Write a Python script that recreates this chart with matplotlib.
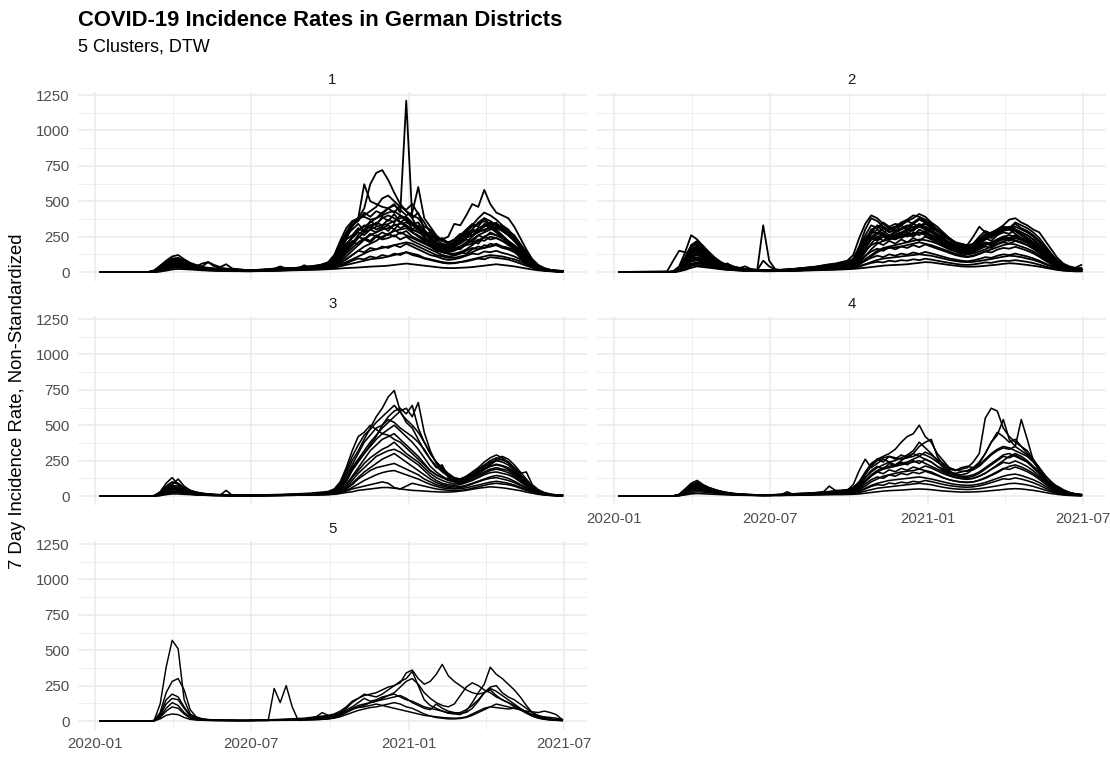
import matplotlib
matplotlib.use("Agg")
import matplotlib.pyplot as plt
import matplotlib.dates as mdates
from matplotlib.ticker import FixedLocator
import pandas as pd

plt.rcParams['font.family'] = ['Liberation Sans', 'DejaVu Sans']

# ---------------- data (weekly readings, 7-day incidence per 100k) ----------------
dates = [pd.Timestamp('2020-01-07')] + list(pd.date_range('2020-03-03', '2021-06-29', freq='7D'))

# Cluster 1
c1_a = [0, 0, 8, 35, 70, 90, 85, 60, 45, 35, 28, 25, 20, 18, 15, 14, 12, 12, 10, 12, 15,
        18, 20, 25, 22, 20, 22, 25, 28, 30, 35, 40, 60, 110, 180, 250, 300, 320, 350, 380, 420,
        450, 480, 420, 1210, 380, 420, 300, 250, 200, 180, 170, 190, 230, 270, 300, 350, 380, 330, 300, 260,
        220, 170, 120, 80, 50, 30, 18, 10, 6, 5]
c1_b = [0, 0, 5, 25, 60, 80, 75, 55, 40, 30, 25, 30, 22, 18, 15, 12, 10, 10, 12, 14, 12,
        15, 18, 20, 18, 22, 25, 30, 28, 35, 40, 50, 80, 150, 230, 320, 380, 450, 620, 700, 720,
        650, 560, 480, 430, 380, 300, 250, 200, 170, 160, 180, 200, 250, 290, 320, 340, 360, 320, 290, 250,
        210, 160, 110, 70, 40, 25, 15, 8, 5, 3]
c1_c = [0, 0, 12, 45, 80, 110, 120, 90, 65, 50, 40, 70, 40, 30, 25, 20, 18, 15, 14, 15, 18,
        20, 25, 30, 28, 25, 30, 35, 40, 45, 50, 55, 70, 100, 150, 200, 260, 300, 330, 340, 380,
        400, 380, 350, 330, 300, 280, 260, 250, 240, 230, 250, 340, 330, 400, 480, 460, 580, 480, 420, 400,
        380, 320, 240, 160, 90, 45, 25, 15, 10, 8]
c1_d = [0, 0, 3, 20, 45, 65, 60, 50, 40, 30, 25, 20, 18, 15, 12, 10, 10, 8, 8, 10, 12,
        14, 15, 18, 20, 22, 25, 28, 32, 38, 45, 60, 110, 200, 280, 350, 380, 620, 500, 480, 460,
        450, 470, 440, 400, 420, 600, 380, 320, 260, 220, 200, 190, 210, 240, 260, 280, 300, 310, 280, 240,
        200, 150, 100, 60, 35, 20, 12, 8, 5, 4]
c1_e = [0, 0, 2, 15, 40, 55, 60, 50, 40, 32, 25, 22, 18, 15, 13, 12, 10, 10, 9, 10, 11,
        12, 14, 16, 18, 20, 22, 25, 30, 35, 40, 45, 60, 90, 140, 190, 240, 280, 300, 320, 330,
        340, 360, 380, 390, 350, 320, 280, 240, 210, 190, 180, 170, 180, 200, 230, 260, 280, 300, 320, 300,
        270, 230, 180, 120, 70, 35, 20, 12, 8, 6]
c1_f = [0, 0, 1, 10, 30, 45, 50, 45, 35, 28, 22, 18, 15, 13, 12, 10, 9, 8, 8, 9, 10,
        11, 12, 14, 16, 18, 20, 22, 25, 28, 30, 35, 45, 65, 90, 120, 150, 180, 200, 220, 250,
        270, 290, 300, 310, 280, 250, 220, 190, 160, 140, 130, 130, 140, 160, 190, 220, 250, 270, 260, 240,
        220, 190, 150, 110, 70, 40, 22, 12, 8, 5]
c1_g = [0, 0, 1, 8, 20, 35, 40, 35, 30, 25, 20, 17, 14, 12, 10, 9, 8, 8, 7, 8, 9,
        10, 11, 12, 14, 16, 18, 20, 22, 25, 28, 30, 38, 50, 70, 90, 110, 130, 150, 160, 170,
        180, 190, 200, 210, 200, 180, 160, 140, 120, 110, 100, 100, 110, 120, 140, 160, 170, 180, 190, 180,
        170, 150, 120, 90, 60, 35, 20, 12, 7, 5]
c1_h = [0, 0, 0, 3, 10, 18, 22, 20, 18, 15, 12, 10, 9, 8, 7, 6, 6, 5, 5, 6, 7,
        8, 9, 10, 11, 12, 13, 14, 15, 16, 18, 20, 22, 25, 28, 30, 32, 35, 38, 40, 42,
        45, 50, 55, 60, 55, 50, 45, 40, 35, 30, 28, 28, 30, 32, 35, 40, 45, 50, 55, 50,
        45, 40, 32, 25, 18, 12, 8, 5, 3, 2]
c1_i = [0, 0, 2, 10, 25, 35, 38, 32, 28, 22, 18, 15, 12, 11, 10, 9, 8, 8, 7, 8, 9,
        10, 12, 13, 15, 16, 18, 20, 22, 24, 26, 28, 32, 40, 50, 60, 70, 80, 90, 95, 100,
        110, 120, 130, 140, 130, 120, 100, 90, 80, 70, 65, 65, 70, 80, 90, 100, 110, 120, 115, 110,
        100, 90, 75, 55, 35, 20, 12, 8, 5, 3]
c1_j = [0, 0, 4, 30, 65, 95, 100, 80, 60, 45, 35, 30, 25, 22, 18, 15, 14, 12, 12, 13, 15,
        17, 20, 22, 25, 28, 30, 33, 38, 42, 48, 55, 90, 160, 250, 330, 380, 400, 430, 460, 520,
        540, 500, 460, 440, 480, 410, 350, 280, 240, 220, 210, 220, 240, 280, 330, 380, 420, 400, 370, 330,
        300, 250, 190, 130, 80, 45, 25, 15, 10, 8]
c1_k = [0, 0, 5, 20, 50, 70, 65, 55, 45, 40, 60, 70, 50, 35, 55, 25, 20, 15, 12, 14, 16,
        18, 22, 40, 25, 22, 25, 48, 30, 32, 35, 38, 50, 75, 110, 150, 190, 230, 260, 280, 300,
        310, 330, 340, 350, 330, 300, 250, 210, 180, 160, 150, 160, 180, 210, 250, 290, 320, 340, 330, 300,
        260, 220, 170, 110, 60, 30, 18, 10, 7, 5]
c1_l = [0, 0, 2, 18, 40, 60, 70, 55, 45, 35, 28, 24, 20, 16, 14, 12, 11, 10, 10, 11, 12,
        13, 15, 17, 19, 22, 25, 28, 32, 40, 55, 70, 120, 220, 310, 360, 380, 390, 370, 380, 400,
        420, 430, 400, 380, 340, 310, 270, 230, 200, 180, 170, 180, 220, 250, 280, 310, 330, 350, 340, 320,
        290, 260, 200, 140, 90, 50, 28, 15, 10, 7]
c1_m = [0,
        0, 3, 22, 55, 80, 70, 62, 48, 38, 30,
        26, 21, 19, 16, 13, 12, 11, 12, 13, 14,
        16, 19, 21, 24, 23, 26, 29, 33, 37, 44,
        52, 85, 170, 260, 300, 340, 290, 360, 330, 390,
        360, 410, 350, 380, 300, 330, 260, 280, 220, 240,
        200, 230, 270, 250, 300, 280, 340, 310, 350, 290,
        260, 230, 160, 120, 70, 40, 22, 12, 8, 6]
c1_n = [0,
        0, 2, 16, 48, 70, 75, 58, 46, 36, 28,
        24, 20, 17, 15, 13, 11, 10, 10, 11, 13,
        15, 17, 19, 21, 24, 27, 31, 35, 40, 48,
        58, 95, 150, 230, 260, 310, 280, 330, 300, 320,
        290, 340, 310, 330, 280, 260, 230, 200, 190, 170,
        160, 180, 200, 230, 210, 260, 240, 280, 260, 240,
        210, 180, 140, 100, 60, 34, 20, 11, 7, 5]
c1_o = [0,
        0, 4, 28, 62, 88, 92, 70, 52, 42, 33,
        28, 23, 19, 17, 14, 13, 12, 11, 12, 14,
        17, 20, 23, 26, 28, 31, 36, 40, 46, 52,
        60, 80, 140, 200, 240, 280, 260, 300, 280, 310,
        330, 300, 350, 320, 290, 300, 240, 220, 200, 170,
        150, 170, 160, 200, 220, 200, 250, 230, 240, 220,
        190, 170, 130, 90, 55, 30, 18, 10, 7, 5]
c1_p = [0,
        0, 1, 12, 35, 52, 58, 48, 40, 32, 25,
        21, 17, 15, 13, 11, 10, 9, 9, 10, 11,
        12, 14, 16, 18, 20, 22, 24, 27, 31, 35,
        40, 55, 85, 130, 170, 210, 240, 220, 260, 240,
        270, 250, 280, 260, 240, 220, 200, 180, 150, 140,
        130, 120, 140, 130, 160, 180, 170, 200, 190, 170,
        160, 140, 110, 80, 50, 28, 16, 9, 6, 4]
c1_q = [0,
        0, 3, 25, 58, 78, 82, 66, 50, 40, 32,
        27, 22, 19, 16, 14, 12, 11, 11, 12, 13,
        15, 18, 21, 23, 26, 29, 33, 37, 42, 50,
        62, 110, 190, 270, 330, 360, 420, 390, 430, 410,
        450, 420, 470, 430, 400, 380, 320, 300, 250, 230,
        210, 230, 260, 300, 340, 320, 380, 360, 330, 310,
        280, 240, 180, 120, 70, 38, 22, 12, 8, 6]
c1_r = [0,
        0, 2, 14, 40, 60, 62, 52, 42, 33, 26,
        22, 18, 16, 14, 12, 11, 10, 9, 10, 12,
        13, 15, 17, 19, 21, 23, 26, 29, 33, 37,
        42, 60, 100, 160, 210, 250, 230, 270, 250, 280,
        260, 300, 270, 290, 250, 230, 210, 180, 170, 150,
        140, 150, 170, 190, 200, 230, 220, 250, 240, 220,
        200, 170, 130, 95, 60, 32, 18, 10, 7, 5]
c1_s = [0,
        0, 1, 6, 18, 28, 32, 28, 24, 20, 16,
        13, 11, 10, 9, 8, 7, 7, 6, 7, 8,
        9, 10, 11, 12, 14, 15, 17, 19, 21, 23,
        26, 32, 45, 60, 80, 95, 90, 110, 100, 120,
        110, 130, 120, 140, 120, 110, 95, 85, 75, 65,
        60, 62, 70, 75, 85, 95, 90, 105, 100, 95,
        88, 75, 60, 45, 30, 18, 11, 7, 4, 3]
c1_t = [0,
        0, 3, 20, 52, 75, 80, 62, 48, 38, 30,
        25, 21, 18, 15, 13, 12, 11, 10, 11, 13,
        15, 17, 20, 22, 25, 28, 32, 36, 41, 46,
        54, 75, 130, 190, 250, 290, 330, 310, 350, 330,
        370, 350, 400, 360, 340, 350, 290, 260, 230, 200,
        190, 210, 240, 270, 260, 300, 290, 330, 310, 290,
        260, 220, 170, 115, 65, 36, 20, 11, 7, 5]
c1_u = [0,
        0, 2, 18, 45, 65, 68, 55, 44, 34, 27,
        23, 19, 17, 15, 13, 12, 11, 10, 11, 12,
        14, 16, 18, 21, 23, 26, 29, 32, 36, 41,
        48, 70, 120, 170, 220, 190, 230, 210, 250, 230,
        240, 260, 230, 250, 220, 200, 180, 160, 140, 120,
        110, 115, 130, 150, 170, 160, 190, 180, 200, 180,
        170, 150, 115, 85, 52, 30, 17, 10, 6, 4]
c1_v = [0,
        0, 1, 9, 26, 40, 44, 38, 32, 26, 21,
        17, 14, 12, 11, 10, 9, 8, 8, 8, 9,
        10, 12, 13, 15, 17, 19, 21, 24, 26, 30,
        34, 45, 62, 90, 120, 150, 140, 170, 160, 180,
        170, 190, 175, 200, 180, 160, 140, 120, 110, 95,
        85, 90, 100, 115, 130, 125, 145, 140, 150, 135,
        125, 110, 90, 65, 42, 24, 14, 8, 5, 4]

# Cluster 2
c2_a = [0, 5, 80, 150, 140, 120, 90, 60, 45, 35, 28, 22, 18, 15, 12, 10, 10, 9, 8, 8, 10,
        12, 15, 20, 25, 28, 30, 32, 35, 40, 45, 50, 70, 110, 180, 250, 280, 260, 240, 230, 250,
        270, 300, 320, 300, 280, 250, 220, 200, 180, 160, 150, 160, 200, 230, 250, 280, 300, 320, 300, 270,
        240, 210, 170, 130, 90, 60, 40, 25, 18, 15]
c2_b = [0, 0, 5, 40, 140, 260, 230, 180, 120, 80, 50, 40, 25, 18, 15, 12, 10, 330, 80, 20, 12,
        10, 12, 15, 18, 20, 22, 25, 28, 32, 38, 45, 65, 120, 200, 280, 330, 310, 290, 280, 300,
        320, 350, 380, 360, 330, 300, 260, 230, 200, 190, 180, 200, 240, 260, 280, 300, 320, 300, 270, 240,
        220, 180, 150, 110, 80, 50, 35, 25, 18, 20]
c2_c = [0, 0, 2, 25, 80, 140, 160, 130, 90, 60, 40, 60, 30, 22, 15, 12, 10, 10, 9, 10, 12,
        14, 16, 20, 22, 25, 30, 35, 42, 50, 55, 60, 90, 180, 300, 380, 360, 320, 300, 310, 340,
        360, 380, 410, 390, 350, 320, 280, 240, 210, 200, 190, 250, 320, 280, 260, 280, 300, 310, 290, 260,
        230, 200, 170, 130, 90, 60, 40, 28, 20, 18]
c2_d = [0, 0, 3, 30, 100, 180, 200, 170, 120, 80, 55, 45, 35, 25, 20, 15, 12, 80, 40, 18, 14,
        12, 14, 18, 20, 22, 25, 28, 32, 35, 40, 45, 55, 80, 140, 200, 250, 260, 240, 250, 270,
        290, 300, 320, 340, 310, 290, 260, 230, 200, 180, 180, 190, 210, 240, 270, 300, 330, 370, 380, 350,
        330, 300, 280, 220, 160, 100, 60, 40, 30, 50]
c2_e = [0, 0, 1, 15, 60, 110, 120, 100, 75, 55, 40, 30, 24, 18, 14, 12, 10, 9, 8, 8, 9,
        10, 12, 14, 16, 18, 20, 22, 25, 28, 32, 36, 45, 70, 110, 160, 200, 220, 230, 240, 250,
        260, 270, 280, 270, 260, 240, 210, 190, 170, 150, 140, 150, 170, 190, 210, 230, 250, 260, 250, 230,
        210, 180, 150, 110, 75, 45, 30, 20, 14, 12]
c2_f = [0, 0, 1, 10, 40, 80, 90, 75, 60, 45, 32, 25, 20, 15, 12, 10, 9, 8, 7, 7, 8,
        9, 10, 12, 14, 16, 18, 20, 22, 24, 28, 30, 38, 55, 80, 110, 140, 160, 170, 175, 180,
        190, 200, 210, 200, 190, 175, 160, 145, 130, 120, 110, 115, 130, 145, 160, 175, 190, 200, 195, 180,
        165, 145, 120, 90, 60, 38, 25, 16, 12, 10]
c2_g = [0, 0, 0, 5, 15, 30, 40, 35, 30, 25, 20, 16, 13, 11, 9, 8, 7, 6, 6, 6, 7,
        8, 9, 10, 11, 12, 13, 14, 15, 16, 18, 20, 22, 26, 30, 35, 40, 45, 48, 50, 52,
        55, 60, 65, 70, 68, 62, 56, 50, 45, 40, 38, 38, 40, 44, 48, 52, 58, 62, 60, 55,
        50, 44, 38, 30, 22, 15, 10, 7, 5, 5]
c2_h = [0, 0, 1, 8, 25, 50, 60, 55, 45, 35, 25, 20, 16, 13, 11, 9, 8, 7, 7, 8, 9,
        10, 11, 13, 15, 17, 19, 21, 23, 25, 27, 30, 34, 42, 55, 70, 85, 95, 100, 105, 110,
        115, 120, 125, 120, 115, 105, 95, 85, 78, 72, 70, 72, 78, 85, 92, 100, 108, 115, 112, 105,
        95, 85, 72, 55, 40, 26, 18, 12, 9, 8]
c2_i = [0, 0, 2, 20, 70, 130, 150, 120, 90, 70, 50, 35, 28, 22, 18, 15, 12, 10, 10, 12, 14,
        16, 20, 25, 30, 35, 40, 48, 55, 60, 70, 80, 120, 240, 340, 400, 380, 340, 310, 320, 350,
        370, 400, 390, 370, 340, 300, 270, 240, 210, 190, 180, 190, 220, 250, 270, 290, 310, 320, 300, 280,
        260, 230, 190, 140, 100, 70, 45, 30, 22, 20]
c2_j = [0, 0, 3, 25, 90, 170, 210, 180, 140, 100, 70, 50, 38, 30, 22, 18, 15, 14, 13, 14, 16,
        18, 22, 26, 30, 32, 38, 44, 50, 55, 60, 65, 80, 140, 220, 300, 320, 290, 260, 280, 310,
        330, 310, 340, 320, 300, 270, 240, 210, 190, 175, 170, 185, 230, 260, 240, 270, 290, 300, 320, 300,
        280, 250, 210, 160, 110, 70, 45, 30, 22, 25]
c2_k = [0, 0, 1, 12, 50, 90, 100, 85, 65, 48, 35, 28, 22, 17, 14, 12, 10, 9, 9, 10, 11,
        12, 14, 16, 18, 20, 23, 26, 29, 32, 35, 38, 45, 60, 90, 120, 150, 170, 180, 190, 200,
        210, 220, 230, 225, 215, 200, 180, 160, 145, 130, 125, 130, 145, 160, 180, 200, 215, 230, 225, 210,
        190, 165, 135, 100, 70, 45, 30, 20, 15, 12]
c2_l = [0, 0, 2, 18, 70, 150, 190, 160, 110, 70, 45, 60, 40, 28, 40, 20, 15, 12, 10, 10, 12,
        14, 16, 18, 20, 24, 28, 32, 36, 40, 45, 50, 60, 100, 160, 230, 270, 270, 250, 260, 280,
        300, 320, 330, 310, 290, 260, 230, 210, 190, 180, 170, 180, 200, 230, 260, 290, 300, 310, 290, 260,
        240, 210, 175, 130, 90, 55, 35, 25, 18, 15]
c2_m = [0,
        0, 3, 28, 95, 165, 175, 140, 100, 70, 48,
        36, 28, 22, 18, 15, 13, 12, 12, 13, 15,
        17, 20, 24, 28, 31, 35, 40, 46, 52, 58,
        64, 85, 150, 240, 290, 270, 310, 280, 300, 270,
        310, 290, 330, 300, 280, 260, 230, 210, 190, 170,
        160, 175, 210, 240, 220, 260, 280, 270, 300, 280,
        260, 230, 190, 150, 105, 65, 42, 28, 20, 22]
c2_n = [0,
        0, 2, 18, 65, 120, 130, 110, 80, 58, 42,
        32, 25, 20, 16, 13, 11, 10, 10, 11, 13,
        15, 17, 20, 23, 26, 29, 33, 38, 43, 48,
        54, 70, 120, 190, 230, 250, 220, 260, 240, 270,
        250, 280, 260, 290, 260, 240, 210, 190, 170, 155,
        150, 165, 190, 210, 200, 230, 250, 240, 260, 240,
        220, 190, 160, 120, 85, 52, 34, 22, 16, 15]
c2_o = [0,
        0, 1, 14, 55, 100, 105, 90, 68, 50, 36,
        28, 22, 18, 15, 12, 10, 9, 9, 10, 11,
        13, 15, 17, 20, 22, 25, 28, 32, 36, 40,
        45, 58, 95, 150, 190, 210, 190, 220, 200, 230,
        210, 240, 220, 250, 230, 210, 185, 165, 150, 135,
        130, 140, 160, 180, 170, 195, 210, 200, 220, 205,
        190, 165, 135, 100, 70, 44, 28, 18, 14, 12]
c2_p = [0,
        0, 2, 22, 80, 150, 165, 130, 95, 65, 45,
        34, 27, 21, 17, 14, 12, 11, 11, 12, 14,
        16, 19, 22, 26, 29, 33, 38, 43, 48, 54,
        60, 78, 140, 220, 270, 300, 270, 320, 290, 330,
        300, 340, 320, 350, 320, 290, 250, 230, 200, 185,
        175, 190, 230, 270, 250, 290, 310, 300, 340, 310,
        290, 260, 220, 170, 120, 75, 48, 32, 22, 24]
c2_q = [0,
        0, 1, 10, 40, 75, 82, 70, 55, 42, 30,
        24, 19, 15, 13, 11, 9, 8, 8, 9, 10,
        11, 13, 15, 17, 19, 21, 24, 27, 30, 34,
        38, 48, 75, 115, 145, 165, 150, 175, 160, 180,
        170, 190, 175, 195, 180, 165, 150, 135, 120, 110,
        105, 112, 128, 145, 138, 158, 170, 165, 178, 165,
        150, 132, 108, 80, 55, 35, 23, 15, 11, 10]
c2_r = [0,
        0, 1, 8, 30, 60, 68, 58, 46, 35, 26,
        20, 16, 13, 11, 9, 8, 7, 7, 8, 8,
        9, 11, 12, 14, 16, 18, 20, 22, 25, 28,
        31, 38, 55, 80, 100, 115, 105, 125, 115, 130,
        122, 138, 128, 142, 132, 120, 108, 96, 88, 80,
        76, 82, 92, 105, 100, 115, 125, 120, 130, 120,
        110, 96, 80, 60, 42, 27, 18, 12, 9, 8]
c2_s = [0,
        0, 2, 20, 75, 140, 180, 150, 105, 72, 50,
        38, 30, 24, 19, 16, 13, 12, 12, 13, 15,
        17, 20, 23, 27, 30, 34, 39, 44, 50, 56,
        62, 82, 140, 210, 250, 230, 270, 240, 280, 250,
        280, 260, 300, 280, 250, 230, 200, 185, 165, 150,
        140, 155, 180, 200, 190, 220, 240, 230, 250, 235,
        215, 190, 155, 115, 80, 50, 32, 22, 16, 14]
c2_t = [0,
        0, 3, 30, 105, 190, 220, 185, 135, 92, 62,
        45, 35, 27, 22, 18, 15, 14, 13, 14, 16,
        18, 21, 25, 29, 33, 37, 42, 48, 54, 62,
        70, 95, 170, 260, 330, 310, 350, 320, 340, 330,
        360, 340, 370, 350, 320, 290, 260, 235, 210, 195,
        185, 200, 250, 290, 270, 300, 320, 310, 350, 330,
        310, 280, 240, 185, 130, 82, 52, 35, 25, 28]
c2_u = [0,
        0, 1, 6, 22, 42, 50, 44, 36, 28, 21,
        17, 14, 11, 9, 8, 7, 6, 6, 7, 7,
        8, 9, 10, 12, 13, 15, 16, 18, 20, 22,
        24, 28, 38, 52, 64, 72, 68, 80, 74, 84,
        80, 90, 84, 94, 88, 80, 72, 65, 58, 52,
        50, 54, 60, 68, 65, 74, 80, 78, 84, 78,
        72, 63, 52, 40, 28, 18, 12, 8, 6, 6]
c2_v = [0,
        0, 2, 16, 60, 115, 140, 120, 88, 62, 44,
        34, 27, 21, 17, 14, 12, 11, 11, 12, 13,
        15, 18, 21, 24, 27, 30, 35, 39, 44, 50,
        56, 72, 125, 200, 240, 220, 250, 230, 260, 240,
        260, 250, 280, 260, 240, 220, 195, 175, 160, 145,
        138, 150, 175, 200, 190, 215, 230, 220, 240, 225,
        205, 180, 150, 110, 78, 48, 31, 20, 15, 13]

# Cluster 3
c3_a = [0, 0, 3, 30, 90, 130, 80, 50, 35, 25, 18, 14, 10, 8, 6, 5, 5, 4, 5, 6, 6,
        7, 8, 8, 10, 10, 12, 14, 15, 18, 20, 22, 35, 80, 160, 250, 320, 400, 480, 560, 620,
        700, 745, 600, 520, 480, 400, 320, 260, 210, 170, 140, 120, 110, 120, 140, 170, 200, 230, 260, 280,
        260, 220, 170, 120, 70, 40, 22, 12, 7, 5]
c3_b = [0, 0, 2, 20, 60, 80, 120, 70, 40, 25, 15, 12, 9, 7, 6, 5, 4, 4, 5, 5, 6,
        6, 7, 8, 9, 10, 11, 13, 15, 17, 18, 20, 28, 60, 120, 200, 260, 320, 380, 430, 480,
        520, 560, 600, 620, 560, 660, 450, 320, 230, 180, 140, 110, 100, 110, 130, 160, 190, 220, 250, 260,
        240, 200, 150, 100, 60, 35, 18, 10, 6, 4]
c3_c = [0, 0, 1, 15, 50, 70, 60, 40, 30, 20, 14, 10, 8, 6, 40, 5, 4, 4, 4, 5, 5,
        6, 6, 7, 8, 9, 10, 12, 14, 16, 18, 20, 25, 50, 100, 180, 240, 300, 360, 420, 500,
        560, 600, 620, 580, 640, 480, 380, 300, 240, 200, 160, 130, 120, 130, 150, 180, 210, 240, 250, 240,
        220, 180, 140, 90, 55, 30, 16, 9, 6, 4]
c3_d = [0, 0, 1, 12, 40, 55, 50, 35, 25, 18, 12, 9, 7, 6, 5, 4, 4, 3, 4, 4, 5,
        5, 6, 6, 7, 8, 9, 10, 12, 14, 16, 18, 22, 40, 80, 140, 200, 260, 320, 360, 400,
        420, 440, 400, 360, 320, 280, 230, 180, 150, 130, 110, 100, 95, 110, 130, 150, 170, 190, 200, 190,
        180, 150, 120, 80, 50, 28, 15, 8, 5, 3]
c3_e = [0, 0, 1, 10, 30, 45, 40, 30, 22, 15, 10, 8, 6, 5, 4, 4, 3, 3, 3, 4, 4,
        5, 5, 6, 6, 7, 8, 9, 10, 12, 14, 16, 20, 35, 60, 110, 160, 200, 240, 280, 300,
        320, 330, 310, 280, 250, 220, 180, 140, 110, 90, 80, 75, 80, 95, 110, 130, 150, 165, 170, 160,
        150, 130, 100, 70, 45, 25, 13, 7, 4, 3]
c3_f = [0, 0, 0, 5, 15, 25, 25, 20, 15, 10, 8, 6, 5, 4, 4, 3, 3, 3, 3, 3, 4,
        4, 5, 5, 6, 6, 7, 8, 9, 10, 11, 12, 15, 22, 35, 50, 60, 70, 80, 90, 100,
        90, 60, 50, 70, 90, 80, 70, 60, 50, 45, 40, 38, 40, 45, 55, 65, 75, 85, 90, 85,
        80, 70, 55, 40, 28, 16, 9, 5, 3, 2]
c3_g = [0, 0, 2, 18, 55, 75, 70, 45, 30, 20, 15, 11, 8, 7, 6, 5, 5, 4, 5, 5, 6,
        6, 7, 8, 9, 10, 11, 12, 14, 16, 18, 20, 30, 70, 140, 220, 300, 380, 430, 480, 500,
        540, 520, 480, 450, 420, 380, 330, 260, 200, 220, 130, 110, 120, 140, 170, 200, 240, 270, 290, 270,
        240, 200, 160, 170, 80, 45, 25, 14, 8, 5]
c3_h = [0, 0, 1, 8, 25, 35, 35, 25, 18, 12, 9, 7, 5, 5, 4, 4, 3, 3, 3, 4, 4,
        4, 5, 5, 6, 7, 7, 8, 9, 11, 12, 14, 18, 30, 50, 80, 120, 150, 180, 200, 210,
        220, 230, 210, 190, 170, 150, 120, 100, 80, 70, 60, 55, 60, 70, 85, 100, 115, 125, 130, 120,
        110, 95, 75, 55, 35, 20, 11, 6, 4, 3]
c3_i = [0, 0, 0, 3, 10, 15, 15, 12, 10, 8, 6, 5, 4, 4, 3, 3, 3, 2, 2, 3, 3,
        3, 4, 4, 5, 5, 6, 6, 7, 8, 9, 10, 12, 18, 25, 30, 40, 45, 50, 55, 60,
        60, 55, 50, 45, 40, 38, 35, 32, 30, 28, 28, 30, 35, 40, 48, 55, 60, 65, 62, 58,
        52, 45, 38, 28, 20, 12, 7, 4, 3, 2]
c3_j = [0, 0, 2, 25, 70, 100, 90, 60, 40, 28, 20, 15, 12, 10, 8, 7, 6, 6, 6, 7, 8,
        9, 10, 11, 12, 14, 16, 18, 20, 24, 28, 32, 50, 100, 200, 320, 420, 450, 500, 470, 440,
        430, 400, 380, 340, 300, 260, 220, 180, 150, 130, 120, 110, 115, 130, 150, 170, 190, 210, 220, 210,
        190, 160, 130, 90, 55, 30, 16, 9, 5, 4]
c3_k = [0,
        0, 1, 14, 45, 62, 58, 40, 28, 19, 13,
        10, 8, 6, 5, 5, 4, 4, 4, 5, 5,
        6, 6, 7, 8, 9, 10, 11, 13, 15, 17,
        19, 26, 55, 110, 190, 250, 300, 350, 400, 440,
        470, 500, 460, 420, 380, 330, 270, 210, 170, 140,
        115, 100, 100, 115, 135, 160, 185, 210, 225, 215,
        200, 170, 130, 90, 55, 30, 16, 9, 5, 4]
c3_l = [0,
        0, 1, 10, 35, 50, 46, 33, 24, 16, 11,
        9, 7, 6, 5, 4, 4, 3, 3, 4, 4,
        5, 5, 6, 7, 8, 9, 10, 11, 13, 15,
        17, 21, 40, 75, 130, 180, 230, 270, 300, 330,
        350, 380, 340, 300, 270, 240, 200, 160, 130, 110,
        95, 85, 88, 100, 118, 140, 160, 180, 190, 180,
        165, 140, 110, 75, 45, 25, 13, 7, 4, 3]
c3_m = [0,
        0, 1, 7, 22, 32, 30, 22, 16, 11, 8,
        6, 5, 4, 4, 3, 3, 3, 3, 3, 4,
        4, 4, 5, 5, 6, 7, 8, 9, 10, 12,
        13, 16, 28, 50, 90, 130, 170, 200, 230, 260,
        280, 300, 270, 240, 210, 180, 150, 120, 95, 80,
        70, 64, 66, 76, 90, 105, 120, 135, 145, 138,
        125, 105, 82, 58, 36, 20, 11, 6, 4, 3]
c3_n = [0,
        0, 2, 22, 65, 95, 85, 55, 38, 26, 18,
        13, 10, 8, 7, 6, 5, 5, 5, 6, 6,
        7, 8, 9, 10, 11, 12, 14, 16, 19, 22,
        25, 40, 90, 180, 280, 360, 430, 470, 520, 560,
        600, 640, 590, 540, 500, 450, 380, 300, 240, 190,
        150, 125, 120, 135, 160, 190, 220, 250, 270, 255,
        235, 195, 150, 105, 62, 35, 19, 10, 6, 4]
c3_o = [0,
        0, 1, 5, 16, 24, 22, 17, 13, 9, 7,
        5, 4, 4, 3, 3, 3, 2, 2, 3, 3,
        3, 4, 4, 5, 5, 6, 7, 8, 9, 10,
        11, 14, 22, 38, 60, 85, 110, 130, 150, 165,
        175, 180, 165, 150, 135, 120, 100, 82, 68, 58,
        52, 50, 52, 58, 68, 78, 88, 98, 104, 98,
        90, 78, 62, 45, 30, 17, 10, 6, 3, 2]

# Cluster 4
c4_a = [0, 0, 0, 10, 40, 70, 80, 60, 45, 35, 25, 18, 12, 10, 8, 6, 5, 5, 6, 8, 10,
        12, 14, 16, 18, 20, 22, 25, 28, 30, 35, 40, 60, 100, 160, 220, 260, 280, 300, 330, 380,
        420, 440, 500, 420, 380, 300, 250, 200, 180, 190, 200, 240, 300, 550, 620, 600, 480, 420, 380, 350,
        300, 250, 180, 120, 80, 60, 40, 25, 15, 10]
c4_b = [0, 0, 0, 8, 30, 60, 100, 70, 50, 38, 28, 20, 14, 10, 8, 7, 6, 6, 7, 8, 9,
        10, 12, 14, 16, 18, 20, 22, 24, 26, 28, 30, 40, 70, 110, 150, 180, 200, 210, 220, 230,
        240, 260, 280, 260, 240, 210, 190, 170, 160, 170, 180, 200, 240, 300, 380, 430, 540, 400, 350, 540,
        400, 250, 180, 120, 80, 55, 40, 25, 15, 10]
c4_c = [0, 0, 0, 12, 50, 90, 110, 80, 60, 45, 30, 22, 16, 12, 10, 8, 7, 6, 7, 8, 10,
        30, 12, 14, 16, 18, 22, 28, 70, 40, 38, 40, 80, 180, 260, 200, 230, 260, 240, 220, 250,
        280, 300, 350, 380, 400, 280, 220, 180, 150, 140, 140, 150, 170, 200, 230, 260, 290, 300, 280, 260,
        240, 200, 160, 110, 80, 70, 45, 25, 15, 10]
c4_d = [0, 0, 0, 8, 30, 60, 70, 60, 50, 40, 30, 22, 16, 12, 10, 8, 7, 6, 6, 7, 8,
        9, 10, 12, 14, 16, 18, 20, 22, 24, 26, 28, 35, 60, 100, 140, 170, 190, 200, 210, 220,
        230, 240, 250, 230, 210, 190, 170, 150, 135, 125, 120, 125, 140, 160, 190, 220, 250, 280, 300, 280,
        250, 210, 170, 120, 80, 50, 30, 18, 10, 8]
c4_e = [0, 0, 0, 5, 20, 45, 55, 45, 38, 30, 22, 16, 12, 10, 8, 7, 6, 5, 5, 6, 7,
        8, 9, 10, 11, 13, 15, 17, 19, 21, 23, 25, 30, 45, 70, 100, 120, 140, 150, 160, 170,
        175, 180, 190, 180, 170, 150, 130, 115, 105, 100, 98, 100, 110, 125, 145, 165, 190, 210, 220, 205,
        185, 160, 130, 95, 65, 40, 25, 14, 8, 6]
c4_f = [0, 0, 0, 3, 12, 25, 30, 28, 24, 20, 15, 12, 9, 8, 7, 6, 5, 4, 4, 5, 5,
        6, 7, 8, 9, 10, 11, 12, 13, 14, 15, 16, 18, 25, 35, 45, 55, 60, 65, 70, 75,
        80, 85, 90, 85, 80, 70, 62, 55, 50, 48, 46, 48, 52, 58, 65, 72, 80, 88, 90, 85,
        78, 68, 55, 42, 30, 20, 12, 7, 4, 3]
c4_g = [0, 0, 0, 10, 45, 80, 90, 70, 55, 42, 32, 24, 18, 14, 12, 10, 8, 7, 8, 10, 12,
        14, 16, 18, 20, 22, 25, 28, 32, 36, 40, 45, 55, 90, 150, 210, 250, 270, 280, 270, 260,
        270, 280, 300, 290, 270, 240, 210, 190, 180, 200, 210, 200, 220, 260, 300, 330, 350, 340, 320, 300,
        280, 240, 190, 140, 100, 65, 40, 22, 12, 8]
c4_h = [0, 0, 0, 6, 25, 45, 50, 42, 35, 28, 20, 15, 11, 9, 7, 6, 5, 5, 5, 6, 6,
        7, 8, 9, 10, 12, 13, 15, 17, 19, 20, 22, 25, 35, 55, 75, 90, 100, 110, 115, 120,
        125, 130, 135, 128, 120, 110, 100, 90, 82, 78, 75, 78, 85, 95, 110, 125, 140, 150, 155, 145,
        130, 115, 95, 70, 48, 30, 18, 10, 6, 4]
c4_i = [0, 0, 0, 7, 35, 65, 75, 60, 48, 36, 26, 18, 14, 11, 9, 8, 7, 6, 6, 7, 8,
        9, 11, 13, 15, 17, 19, 21, 24, 27, 30, 33, 45, 80, 130, 170, 200, 220, 240, 250, 270,
        290, 320, 380, 340, 300, 250, 200, 170, 155, 150, 160, 190, 230, 300, 380, 450, 420, 380, 400, 350,
        320, 260, 200, 140, 95, 60, 38, 22, 12, 8]
c4_j = [0, 0, 0, 2, 8, 15, 18, 16, 14, 12, 10, 8, 7, 6, 5, 4, 4, 3, 3, 4, 4,
        5, 5, 6, 6, 7, 8, 8, 9, 10, 10, 11, 12, 15, 20, 25, 30, 35, 38, 40, 42,
        45, 48, 50, 48, 45, 40, 36, 33, 30, 28, 28, 29, 31, 34, 38, 42, 46, 50, 52, 50,
        45, 40, 33, 25, 18, 12, 7, 4, 3, 2]
c4_k = [0,
        0, 0, 9, 38, 72, 85, 66, 52, 40, 30,
        22, 16, 12, 10, 8, 7, 6, 7, 8, 9,
        10, 12, 14, 16, 18, 21, 24, 27, 30, 33,
        36, 48, 80, 130, 180, 210, 190, 230, 210, 240,
        220, 250, 230, 260, 240, 210, 180, 160, 145, 135,
        130, 140, 160, 190, 220, 250, 280, 270, 290, 265,
        240, 200, 160, 115, 78, 48, 30, 17, 10, 7]
c4_l = [0,
        0, 0, 6, 26, 52, 62, 52, 42, 33, 24,
        18, 13, 10, 8, 7, 6, 5, 6, 7, 7,
        8, 9, 11, 12, 14, 16, 18, 20, 22, 24,
        26, 32, 52, 85, 115, 135, 125, 150, 140, 160,
        150, 168, 158, 175, 160, 145, 128, 115, 105, 98,
        95, 100, 112, 130, 150, 172, 195, 188, 205, 190,
        172, 148, 118, 85, 58, 36, 22, 13, 8, 6]
c4_m = [0,
        0, 0, 11, 45, 85, 95, 75, 58, 45, 34,
        25, 19, 15, 12, 10, 8, 7, 8, 9, 11,
        13, 15, 17, 19, 21, 24, 27, 30, 34, 38,
        42, 58, 100, 170, 230, 260, 240, 280, 260, 290,
        270, 300, 280, 310, 290, 260, 230, 200, 185, 175,
        175, 185, 210, 250, 290, 320, 340, 330, 350, 320,
        290, 250, 200, 145, 100, 62, 38, 22, 13, 9]
c4_n = [0,
        0, 0, 4, 16, 34, 42, 36, 30, 24, 18,
        13, 10, 8, 7, 6, 5, 4, 4, 5, 5,
        6, 7, 8, 9, 10, 11, 13, 14, 16, 17,
        19, 22, 33, 50, 68, 80, 76, 92, 86, 98,
        92, 104, 98, 110, 102, 92, 82, 74, 68, 64,
        62, 65, 72, 82, 95, 108, 122, 118, 128, 120,
        108, 94, 76, 56, 38, 24, 15, 9, 5, 4]
c4_o = [0,
        0, 0, 8, 32, 62, 75, 60, 48, 37, 28,
        20, 15, 12, 9, 8, 7, 6, 6, 7, 8,
        9, 11, 12, 14, 16, 18, 21, 23, 26, 28,
        31, 40, 65, 105, 145, 170, 158, 185, 172, 195,
        182, 205, 192, 212, 198, 178, 158, 142, 130, 122,
        118, 125, 140, 162, 188, 212, 238, 230, 248, 230,
        208, 178, 142, 102, 70, 43, 27, 16, 9, 7]

# Cluster 5
c5_a = [0, 0, 5, 120, 380, 570, 510, 150, 50, 25, 15, 10, 8, 6, 5, 5, 5, 4, 4, 5, 6,
        6, 7, 8, 9, 10, 11, 12, 15, 18, 22, 25, 35, 50, 80, 100, 130, 160, 140, 150, 170,
        180, 190, 170, 150, 140, 120, 100, 90, 80, 70, 60, 55, 60, 80, 110, 150, 200, 220, 180, 150,
        130, 110, 85, 60, 35, 20, 12, 8, 5, 3]
c5_b = [0, 0, 3, 60, 200, 280, 300, 220, 80, 30, 15, 10, 8, 7, 6, 6, 5, 5, 6, 7, 8,
        9, 10, 12, 14, 16, 18, 20, 25, 30, 35, 40, 50, 70, 100, 140, 160, 180, 190, 200, 220,
        240, 250, 270, 340, 360, 300, 260, 280, 330, 400, 320, 280, 250, 220, 200, 190, 200, 230, 210, 180,
        150, 120, 90, 65, 45, 30, 20, 15, 10, 6]
c5_c = [0, 0, 2, 50, 150, 190, 170, 100, 40, 20, 12, 8, 7, 6, 5, 5, 4, 4, 5, 5, 6,
        7, 8, 9, 10, 11, 12, 14, 18, 22, 28, 35, 45, 60, 90, 130, 160, 190, 180, 170, 190,
        220, 250, 280, 300, 350, 250, 150, 110, 90, 70, 55, 50, 45, 70, 130, 200, 260, 380, 330, 300,
        260, 220, 170, 110, 60, 30, 18, 10, 6, 4]
c5_d = [0, 0, 2, 40, 120, 160, 150, 90, 35, 18, 10, 8, 6, 5, 5, 4, 4, 4, 4, 5, 5,
        6, 7, 8, 9, 10, 12, 15, 20, 30, 60, 40, 30, 40, 60, 90, 110, 120, 130, 140, 150,
        160, 170, 180, 160, 130, 110, 90, 80, 120, 90, 70, 60, 55, 60, 90, 140, 200, 240, 250, 200,
        170, 150, 120, 90, 60, 40, 25, 15, 8, 5]
c5_e = [0, 0, 1, 30, 90, 130, 110, 60, 25, 12, 8, 6, 5, 4, 4, 4, 3, 3, 4, 4, 5,
        5, 6, 7, 8, 9, 10, 12, 14, 16, 20, 25, 35, 50, 70, 85, 95, 100, 110, 120, 110,
        100, 90, 80, 70, 60, 50, 40, 35, 30, 25, 22, 20, 22, 30, 50, 70, 90, 100, 95, 90,
        85, 90, 80, 70, 65, 60, 70, 60, 45, 10]
c5_f = [0, 0, 1, 25, 70, 100, 90, 50, 20, 10, 6, 5, 4, 4, 3, 3, 3, 3, 3, 4, 4,
        3, 230, 130, 250, 100, 5, 6, 8, 10, 12, 15, 25, 40, 60, 80, 100, 110, 130, 140, 160,
        180, 200, 240, 280, 300, 260, 200, 160, 130, 110, 100, 120, 180, 240, 270, 250, 220, 200, 170, 150,
        130, 100, 80, 55, 35, 22, 13, 8, 5, 3]
c5_g = [0, 0, 1, 15, 40, 50, 45, 25, 12, 7, 5, 4, 3, 3, 3, 2, 2, 2, 3, 3, 3,
        4, 4, 5, 5, 6, 7, 8, 9, 10, 12, 15, 20, 30, 45, 60, 75, 85, 95, 100, 110,
        120, 130, 120, 100, 90, 70, 50, 35, 25, 20, 15, 15, 18, 25, 40, 60, 80, 100, 120, 110,
        100, 90, 80, 60, 45, 35, 30, 25, 20, 12]

panel_labels = ['1', '2', '3', '4', '5']
cluster_series = [
    [c1_a, c1_b, c1_c, c1_d, c1_e, c1_f, c1_g, c1_h, c1_i, c1_j, c1_k, c1_l,
     c1_m, c1_n, c1_o, c1_p, c1_q, c1_r, c1_s, c1_t, c1_u, c1_v],
    [c2_a, c2_b, c2_c, c2_d, c2_e, c2_f, c2_g, c2_h, c2_i, c2_j, c2_k, c2_l,
     c2_m, c2_n, c2_o, c2_p, c2_q, c2_r, c2_s, c2_t, c2_u, c2_v],
    [c3_a, c3_b, c3_c, c3_d, c3_e, c3_f, c3_g, c3_h, c3_i, c3_j, c3_k, c3_l, c3_m, c3_n, c3_o],
    [c4_a, c4_b, c4_c, c4_d, c4_e, c4_f, c4_g, c4_h, c4_i, c4_j, c4_k, c4_l, c4_m, c4_n, c4_o],
    [c5_a, c5_b, c5_c, c5_d, c5_e, c5_f, c5_g],
]
y_ticks = [0, 250, 500, 750, 1000, 1250]
y_minor = [125, 375, 625, 875, 1125]
x_ticks = ['2020-01-01', '2020-07-01', '2021-01-01', '2021-07-01']
x_tick_labels = ['2020-01', '2020-07', '2021-01', '2021-07']
x_minor = ['2020-04-01', '2020-10-01', '2021-04-01']

for grp in cluster_series:
    for s in grp:
        assert len(s) == len(dates), len(s)

# ---------------- layout ----------------
W, H = 1110, 758
fig = plt.figure(figsize=(W / 100, H / 100), dpi=100)

cols = [(78, 587), (597, 1106)]
rows = [(92.1, 280.6), (316.1, 504.6), (541.1, 729.6)]
panel_lw = [1.3, 1.3, 1.15, 1.15, 1.05]

base = pd.Timestamp('2020-01-01')
x0 = mdates.date2num(base) - 19.8
x1 = mdates.date2num(base) + 573.8

tick_color = '#4D4D4D'
tick_size = 10.8

for i, series in enumerate(cluster_series):
    r, c = divmod(i, 2)
    (L, R), (T, B) = cols[c], rows[r]
    ax = fig.add_axes([L / W, 1 - B / H, (R - L) / W, (B - T) / H])
    for s in series:
        ax.plot(dates, s, color='black', lw=panel_lw[i], solid_joinstyle='round')
    ax.set_xlim(x0, x1)
    ax.set_ylim(-60.5, 1270.5)
    ax.yaxis.set_major_locator(FixedLocator(y_ticks))
    ax.yaxis.set_minor_locator(FixedLocator(y_minor))
    ax.xaxis.set_major_locator(FixedLocator([mdates.date2num(pd.Timestamp(d)) for d in x_ticks]))
    ax.xaxis.set_minor_locator(FixedLocator([mdates.date2num(pd.Timestamp(d)) for d in x_minor]))
    ax.grid(which='major', color='#EBEBEB', lw=1.1)
    ax.grid(which='minor', color='#EBEBEB', lw=0.6)
    ax.set_axisbelow(True)
    for sp in ax.spines.values():
        sp.set_visible(False)
    ax.tick_params(which='both', length=0, labelsize=tick_size, labelcolor=tick_color)
    ax.tick_params(axis='y', pad=6)
    ax.tick_params(axis='x', pad=5)
    if c == 0:
        ax.set_yticklabels([str(v) for v in y_ticks])
    else:
        ax.set_yticklabels([])
    if i in (3, 4):
        ax.set_xticklabels(x_tick_labels)
    else:
        ax.set_xticklabels([])
    fig.text((L + R) / 2 / W, 1 - (T - 12) / H, panel_labels[i], ha='center', va='center',
             fontsize=tick_size, color='#1A1A1A')

fig.text(78 / W, 1 - 20 / H, 'COVID-19 Incidence Rates in German Districts',
         fontsize=15.8, fontweight='bold', ha='left', va='center')
fig.text(78 / W, 1 - 47 / H, '5 Clusters, DTW', fontsize=13, ha='left', va='center')
fig.text(18 / W, 1 - 401 / H, '7 Day Incidence Rate, Non-Standardized', rotation=90,
         fontsize=13.3, ha='center', va='center')

fig.savefig('out.png', dpi=100, facecolor='white')
